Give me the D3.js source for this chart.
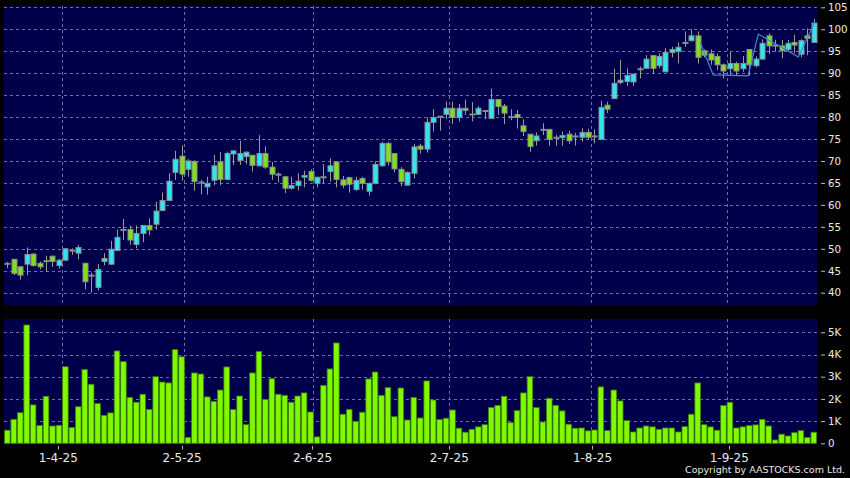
<!DOCTYPE html>
<html><head><meta charset="utf-8">
<script src="https://cdn.jsdelivr.net/npm/d3@7"></script>
<style>html,body{margin:0;padding:0;background:#000;overflow:hidden}</style>
</head><body>
<svg id="c" width="850" height="478"></svg>
<script>
// ---- data ----
const opens  = [46.7,47.6,45.9,46.5,48.8,46.7,47.3,48.3,46.2,47.4,49.7,49.0,46.7,44.0,41.2,47.1,46.5,49.6,54.4,54.4,
 51.0,53.5,55.3,55.6,58.7,61.0,67.4,71.1,68.1,69.9,65.2,64.1,65.6,69.8,65.8,71.6,70.1,71.0,71.3,68.9,
 71.7,68.6,67.0,66.4,63.8,64.4,66.3,67.6,64.9,66.4,67.6,69.8,65.7,66.2,63.5,66.0,63.1,64.9,68.9,74.0,
 71.7,68.1,64.5,67.2,73.4,72.7,78.8,80.2,80.6,82.0,79.9,82.0,80.7,80.6,81.5,79.7,84.0,82.5,80.1,80.6,
 78.0,76.1,74.6,77.2,77.2,75.4,75.3,76.1,75.7,75.4,76.5,75.7,74.9,82.7,84.2,87.9,88.1,88.0,91.0,91.1,
 94.0,91.7,90.3,94.7,94.9,97.0,97.4,98.5,95.1,94.4,93.8,91.9,91.0,92.2,91.0,95.4,91.7,93.2,98.5,96.4,
 96.2,95.4,97.0,94.3,98.5,97.0];
const highs  = [47.0,47.7,46.1,50.3,49.0,47.1,48.4,48.5,47.7,50.2,50.1,50.9,46.8,44.6,46.5,49.0,51.8,54.4,56.8,55.3,
 55.3,55.3,56.9,60.7,62.8,67.2,72.3,73.6,70.4,70.2,65.7,66.4,71.4,72.0,72.1,72.5,74.6,72.2,71.3,75.9,
 73.3,69.8,67.4,66.6,66.4,67.2,67.8,68.1,66.4,69.3,70.6,70.0,66.6,66.4,66.4,66.4,65.1,69.9,74.4,74.4,
 71.7,68.6,67.6,73.9,73.9,79.9,81.8,80.3,83.5,83.5,83.0,84.0,83.4,82.5,81.6,86.5,84.0,83.0,81.8,81.6,
 79.5,76.1,76.5,78.6,77.2,75.9,76.7,76.9,76.4,77.4,77.3,77.2,83.7,83.5,91.0,93.0,91.1,89.8,91.5,94.1,
 94.0,94.5,95.7,96.0,97.0,99.5,100.0,99.5,95.4,95.4,94.5,92.2,94.9,92.6,93.9,95.4,93.8,97.7,99.1,97.6,
 97.6,97.6,98.7,97.7,100.2,102.3];
const lows   = [45.6,44.0,43.0,44.0,45.9,45.3,44.8,45.9,45.5,47.3,48.6,47.6,40.8,40.0,40.5,46.2,46.3,49.5,52.0,50.9,
 50.1,51.5,53.1,54.3,58.6,60.9,65.7,65.5,66.4,63.2,62.4,62.3,64.5,64.5,65.7,69.1,69.1,69.3,67.6,68.8,
 68.2,65.7,65.1,62.7,63.5,63.3,64.0,65.3,64.0,64.9,65.3,64.0,63.8,62.8,63.2,63.5,62.1,64.7,68.7,69.0,
 67.4,64.3,64.5,66.0,71.7,71.9,76.7,76.9,79.6,78.4,79.0,80.5,79.0,80.5,79.5,79.7,80.5,78.4,79.3,77.4,
 75.7,72.1,73.5,75.9,73.5,73.5,73.5,73.9,73.5,74.4,74.8,74.0,74.9,80.9,84.2,87.5,87.1,87.1,88.8,91.1,
 89.8,91.1,90.3,93.6,92.2,96.0,97.2,92.2,93.6,91.9,90.7,88.8,89.6,89.4,90.3,89.4,91.3,93.2,94.4,94.9,
 93.4,94.9,94.5,93.6,94.1,97.0];
const closes = [46.7,44.4,44.0,48.7,46.2,45.9,47.3,47.1,47.4,50.0,49.7,50.3,42.5,44.0,45.3,47.8,49.9,52.6,54.4,52.0,
 53.5,55.3,54.3,58.6,61.0,65.4,70.4,67.0,70.0,65.3,65.2,64.9,68.9,65.8,71.7,72.3,71.7,72.0,69.0,71.7,
 68.6,67.0,67.0,63.8,64.4,65.4,66.7,65.6,66.3,66.4,68.9,65.8,64.5,64.7,65.6,64.9,64.9,69.2,74.0,69.8,
 68.2,65.3,67.4,73.2,72.7,78.8,79.9,80.2,82.0,79.9,82.0,81.5,80.7,82.0,81.5,84.0,82.4,80.9,80.1,79.9,
 76.7,73.3,75.7,77.2,74.9,75.4,75.8,74.6,75.7,76.5,75.4,75.7,82.2,81.8,87.7,88.4,89.5,89.8,91.0,93.2,
 91.1,93.8,94.7,95.4,95.9,97.0,98.5,93.6,94.1,93.0,91.9,90.5,92.2,90.5,92.2,91.9,93.2,96.8,96.2,96.4,
 95.1,96.8,96.4,97.4,97.9,101.4];
const volumes = [590,1080,1380,5330,1730,800,2120,780,810,3450,710,1650,3320,2660,1790,1260,1370,4160,3680,2070,
 1850,2210,1520,3000,2760,2720,4220,3900,270,3170,3120,2090,1890,2400,3440,1520,2130,840,3170,4140,
 1980,2910,2210,2160,1850,2130,2270,1410,290,2610,3350,4520,1310,1530,990,1400,2900,3210,2160,2510,
 1200,2490,1050,2070,1140,2810,1950,1070,1130,1500,680,500,630,740,840,1610,1710,2120,930,1470,
 2270,3000,1610,960,2030,1710,1460,860,680,690,560,600,2540,570,2400,1910,1020,510,690,780,
 740,630,690,690,510,750,1310,2720,840,740,590,1700,1850,690,740,800,830,1080,780,150,
 410,330,480,570,260,500];
const lineIdx  = [107.4, 109.4, 114.8, 116.4, 122.6, 125.1];
const lineVals = [97.0, 89.6, 89.4, 98.9, 93.7, 101.4];
const priceTicks = [40,45,50,55,60,65,70,75,80,85,90,95,100,105];
const volTicks = [0,1000,2000,3000,4000,5000];
const dateLabels = ["1-4-25","2-5-25","2-6-25","2-7-25","1-8-25","1-9-25"];
const dateGridIdx = [8.5,27.4,47.4,68.5,90.5,111.5];
const dateLabelIdx = [7.9,27.1,47.3,68.5,90.7,111.9];

// ---- layout ----
const svg = d3.select("#c");
const W = 850, H = 478;
const P = {l:4, r:817, t:6, b:305};      // price panel
const V = {l:4, r:817, t:319, b:444};    // volume panel
const N = opens.length;
const x = d3.scaleLinear().domain([0, N-1]).range([7.3, 813.8]);
const y = d3.scaleLinear().domain([40,105]).range([292.7, 7.3]);
const yv = d3.scaleLinear().domain([0,5000]).range([443.3, 332.3]);

const UP = "#2fe6f2", DOWN = "#80e01c", GRID = "#6c6caa", TXT = "#e8e8e8";

svg.append("rect").attr("width",W).attr("height",H).attr("fill","#000");
svg.append("rect").attr("x",P.l).attr("y",P.t).attr("width",P.r-P.l).attr("height",P.b-P.t).attr("fill","#00004a");
svg.append("rect").attr("x",V.l).attr("y",V.t).attr("width",V.r-V.l).attr("height",V.b-V.t).attr("fill","#00004a");

// grid
const g = svg.append("g").attr("stroke",GRID).attr("stroke-width",1).attr("stroke-dasharray","3,3").attr("shape-rendering","crispEdges");
g.selectAll("line.hp").data(priceTicks).join("line").attr("class","hp").attr("x1",P.l).attr("x2",P.r)
  .attr("y1",d=>Math.round(y(d))+0.5).attr("y2",d=>Math.round(y(d))+0.5);
g.selectAll("line.hv").data(volTicks.filter(d=>d>0)).join("line").attr("class","hv").attr("x1",V.l).attr("x2",V.r)
  .attr("y1",d=>Math.round(yv(d))+0.5).attr("y2",d=>Math.round(yv(d))+0.5);
g.selectAll("line.vp").data(dateGridIdx).join("line").attr("class","vp")
  .attr("x1",d=>Math.round(x(d))+0.5).attr("x2",d=>Math.round(x(d))+0.5).attr("y1",P.t).attr("y2",P.b);
g.selectAll("line.vv").data(dateGridIdx).join("line").attr("class","vv")
  .attr("x1",d=>Math.round(x(d))+0.5).attr("x2",d=>Math.round(x(d))+0.5).attr("y1",V.t).attr("y2",V.b);

// candles
const bars = d3.range(N).map(i=>({i, o:opens[i], h:highs[i], l:lows[i], c:closes[i], v:volumes[i]}));
const cg = svg.append("g");
cg.selectAll("line.wick").data(bars).join("line").attr("class","wick")
  .attr("x1",d=>Math.round(x(d.i))+0.5).attr("x2",d=>Math.round(x(d.i))+0.5)
  .attr("y1",d=>y(d.h)).attr("y2",d=>y(d.l)).attr("stroke","#9a9a9a").attr("stroke-width",1);
cg.selectAll("rect.body").data(bars).join("rect").attr("class","body")
  .attr("x",d=>Math.round(x(d.i))-2)
  .attr("width",5)
  .attr("y",d=>y(Math.max(d.o,d.c)))
  .attr("height",d=>Math.max(1, Math.abs(y(d.o)-y(d.c))))
  .attr("fill",d=>d.c>d.o?UP:(d.c<d.o?DOWN:"#8a8a8a"))
  .attr("stroke","#8c8c8c").attr("stroke-width",1);

// overlay line
const lpts = lineIdx.map((d,k)=>[d,lineVals[k]]);
svg.append("path").datum(lpts)
  .attr("d", d3.line().x(d=>x(d[0])).y(d=>y(d[1])))
  .attr("fill","none").attr("stroke","#3f8ad6").attr("stroke-width",1.2);

// volume bars
svg.append("g").selectAll("rect").data(bars).join("rect")
  .attr("x",d=>x(d.i)-2.8).attr("width",5.6)
  .attr("y",d=>yv(d.v)).attr("height",d=>yv(0)-yv(d.v))
  .attr("fill","#80f800").attr("stroke","#3a7e00").attr("stroke-width",0.8);

// right axes
const axisPrice = d3.axisRight(y).tickValues(priceTicks).tickSize(4).tickPadding(3);
const axisVol = d3.axisRight(yv).tickValues(volTicks).tickSize(4).tickPadding(3).tickFormat(d=>d===0?"0":(d/1000)+"K");
function styleAxis(sel){
  sel.select(".domain").remove();
  sel.selectAll(".tick line").attr("stroke","#bbbbbb");
  sel.selectAll(".tick text").attr("fill",TXT).attr("font-family","DejaVu Sans").attr("font-size","10.3px");
}
svg.append("g").attr("transform","translate(821,0)").call(axisPrice).call(styleAxis);
svg.append("g").attr("transform","translate(821,0)").call(axisVol).call(styleAxis);

// date axis
const dg = svg.append("g");
dg.selectAll("line").data(dateLabelIdx).join("line")
  .attr("x1",d=>Math.round(x(d))+0.5).attr("x2",d=>Math.round(x(d))+0.5).attr("y1",446).attr("y2",449.5)
  .attr("stroke","#bbbbbb");
dg.selectAll("text").data(dateLabels).join("text")
  .attr("x",(d,k)=>x(dateLabelIdx[k])).attr("y",462).attr("text-anchor","middle")
  .attr("font-family","DejaVu Sans").attr("font-size","12px").attr("fill",TXT).text(d=>d);

svg.append("text").attr("x",845).attr("y",473).attr("text-anchor","end")
  .attr("font-family","DejaVu Sans").attr("font-size","9.5px").attr("fill",TXT)
  .text("Copyright by AASTOCKS.com Ltd.");
</script>
</body></html>
